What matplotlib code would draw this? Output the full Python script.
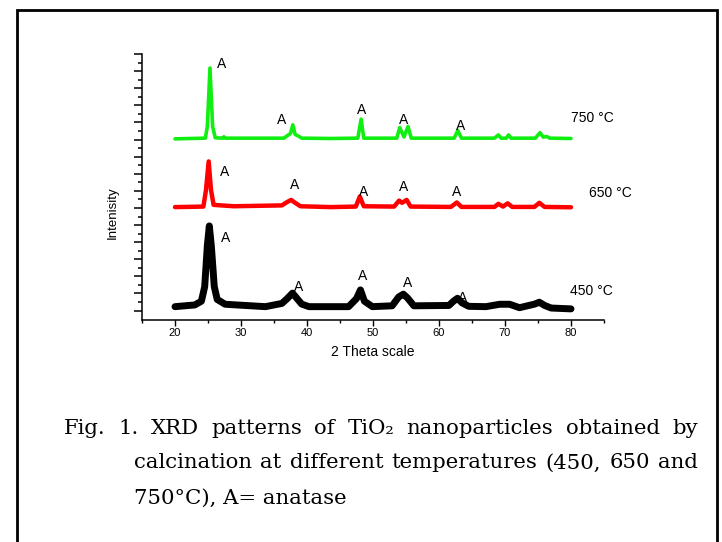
import matplotlib
matplotlib.use("Agg")
import matplotlib.pyplot as plt
from matplotlib.patches import Rectangle

# XRD patterns (2 theta, stacked intensity in plot units)
x450 = [20, 23.0, 24.0, 24.5, 24.9, 25.2, 25.5, 25.95, 26.4, 27.6, 33.7, 36.2, 37.0, 37.8, 38.5, 39.2,
        40.3, 46.3, 47.5, 48.1, 48.7, 49.9, 52.9, 53.9, 54.6, 55.2, 56.2, 61.5, 62.2, 62.8, 63.5, 64.5,
        67.1, 69.2, 70.7, 72.2, 74.5, 75.2, 76.0, 77.0, 80]
y450 = [0.23, 0.33, 0.55, 1.4, 3.8, 4.95, 3.8, 1.4, 0.65, 0.37, 0.23, 0.42, 0.7, 1.02, 0.7, 0.38,
        0.23, 0.23, 0.7, 1.21, 0.55, 0.23, 0.28, 0.8, 0.96, 0.75, 0.28, 0.3, 0.55, 0.72, 0.45, 0.25,
        0.23, 0.37, 0.37, 0.17, 0.38, 0.49, 0.3, 0.15, 0.1]

x650 = [20, 24.3, 24.7, 25.1, 25.45, 25.85, 28.9, 36.2, 37.0, 37.6, 38.2, 39.0, 43.6, 47.4, 48.0, 48.6,
        53.2, 53.95, 54.4, 55.1, 55.7, 61.8, 62.7, 63.4, 68.4, 69.0, 69.7, 70.4, 71.1, 74.45, 75.2, 76.0, 80]
y650 = [6.05, 6.08, 7.06, 8.72, 7.06, 6.18, 6.1, 6.15, 6.35, 6.47, 6.3, 6.1, 6.05, 6.08, 6.67, 6.1,
        6.08, 6.43, 6.3, 6.47, 6.08, 6.06, 6.32, 6.06, 6.06, 6.24, 6.08, 6.27, 6.06, 6.06, 6.3, 6.06, 6.04]

x750 = [20, 24.6, 24.9, 25.3, 25.7, 26.1, 27.2, 27.4, 27.6, 36.5, 37.0, 37.5, 37.85, 38.2, 38.7, 39.2,
        43.6, 47.7, 48.2, 48.6, 53.6, 54.05, 54.7, 55.3, 55.8, 62.3, 62.85, 63.4, 68.4, 69.0, 69.4,
        70.2, 70.55, 70.9, 74.6, 75.3, 75.8, 76.3, 76.8, 80]
y750 = [10.04, 10.08, 10.76, 14.18, 10.76, 10.1, 10.08, 10.16, 10.08, 10.08, 10.22, 10.35, 10.86, 10.3, 10.2, 10.08,
        10.06, 10.08, 11.19, 10.08, 10.08, 10.7, 10.15, 10.76, 10.08, 10.08, 10.53, 10.08, 10.08, 10.27, 10.08,
        10.08, 10.27, 10.08, 10.08, 10.4, 10.14, 10.18, 10.08, 10.06]

# "A" (anatase) peak markers
a_x = [27.1, 36.2, 48.2, 54.6, 63.3,
       27.5, 38.15, 48.6, 54.6, 62.7,
       27.6, 38.75, 48.4, 55.3, 63.6]
a_y = [14.4, 11.15, 11.74, 11.15, 10.82,
       8.13, 7.33, 6.94, 7.25, 6.94,
       4.23, 1.40, 2.03, 1.60, 0.73]

temps = ["750 \u00b0C", "650 \u00b0C", "450 \u00b0C"]
temp_x = [80.05, 82.7, 79.8]
temp_y = [11.25, 6.86, 1.15]

caption = ["Fig. 1. XRD patterns of TiO\u2082 nanoparticles obtained by",
           "calcination at different temperatures (450, 650 and",
           "750\u00b0C), A= anatase"]

W, H = 722, 542
fig = plt.figure(figsize=(W / 100, H / 100), dpi=100)
plt.rcParams["font.family"] = ["Liberation Sans", "DejaVu Sans"]

ax = fig.add_axes([142 / W, 1 - 320 / H, 462 / W, 266 / H])
ax.plot(x450, y450, color="black", lw=5, solid_capstyle="round", solid_joinstyle="round")
ax.plot(x650, y650, color="#ff0000", lw=3.2, solid_capstyle="round", solid_joinstyle="round")
ax.plot(x750, y750, color="#11ee11", lw=2.6, solid_capstyle="round", solid_joinstyle="round")

for x, y in zip(a_x, a_y):
    ax.text(x, y, "A", fontsize=10, ha="center", va="center")
for t, x, y in zip(temps, temp_x, temp_y):
    ax.text(x, y, t, fontsize=10, ha="left", va="center", clip_on=False)

ax.set_xlim(15, 85)
ax.set_ylim(-0.55, 15)
ax.set_xticks(range(20, 81, 10))
ax.set_xticks(range(15, 86, 5), minor=True)
ax.set_yticks(range(0, 16))
ax.set_yticks([i + 0.5 for i in range(15)], minor=True)
ax.set_yticklabels([])
ax.tick_params(axis="x", which="major", length=4, width=1, pad=2, labelsize=8)
ax.tick_params(axis="x", which="minor", length=2.5, width=1)
ax.tick_params(axis="y", which="major", length=6, width=1.1)
ax.tick_params(axis="y", which="minor", length=3, width=1.1)
for s in ["top", "right"]:
    ax.spines[s].set_visible(False)
for s in ["left", "bottom"]:
    ax.spines[s].set_linewidth(1.1)

fig.text(373 / W, 1 - 352 / H, "2 Theta scale", fontsize=10, ha="center", va="center")
fig.text(113 / W, 1 - 213 / H, "Intenisity", fontsize=9.5, rotation=90, ha="center", va="center")

# frame around the figure, open at the bottom
fig.patches.append(Rectangle((17 / W, -0.1), 700 / W, 1.1 - 10 / H, transform=fig.transFigure,
                             fill=False, lw=2, ec="black"))

# justified caption
def justify(line, y, x0, x1, size):
    words = line.split(" ")
    texts = [fig.text(0, y, w, fontsize=size, family="DejaVu Serif", va="center") for w in words]
    fig.canvas.draw()
    r = fig.canvas.get_renderer()
    widths = [t.get_window_extent(r).width for t in texts]
    gap = max((x1 - x0 - sum(widths)) / (len(words) - 1), 3)
    x = x0
    for t, w in zip(texts, widths):
        t.set_x(x / W)
        x += w + gap

justify(caption[0], 1 - 428 / H, 64, 698, 15.3)
justify(caption[1], 1 - 463 / H, 134, 698, 15.3)
fig.text(134 / W, 1 - 498 / H, caption[2], fontsize=15.3, family="DejaVu Serif", va="center")

fig.savefig("out.png", dpi=100)
